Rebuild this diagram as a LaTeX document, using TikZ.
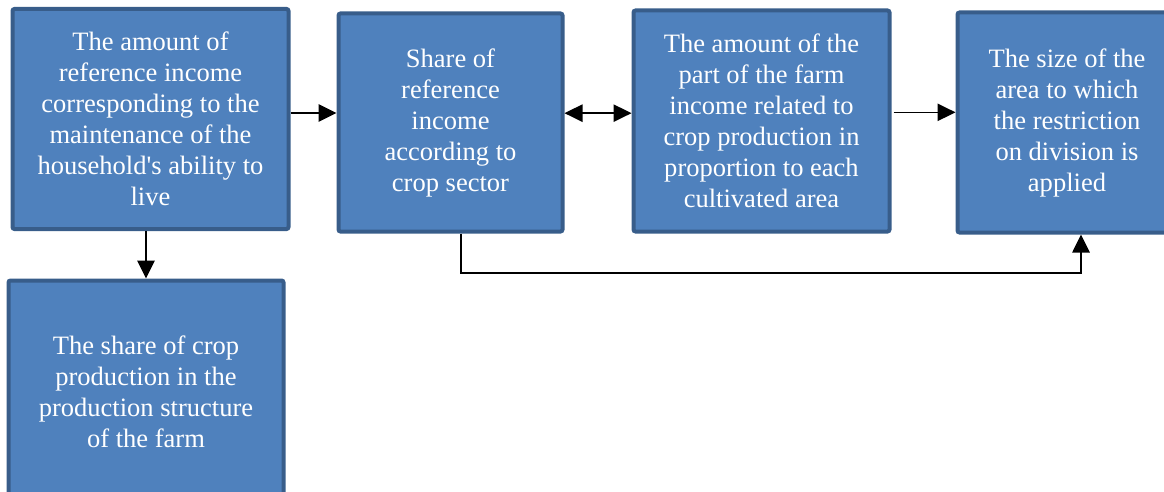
\documentclass[tikz,border=0pt]{standalone}
\usepackage{fontspec}
\setmainfont{Liberation Serif}
\usepackage{xcolor}
\usetikzlibrary{arrows.meta,positioning,shapes.geometric}
\definecolor{boxfill}{HTML}{4F81BD}
\definecolor{boxline}{HTML}{385D8A}

\begin{document}
\begin{tikzpicture}[x=0.75pt, y=-0.75pt,
    every node/.style={draw=boxline, line width=3pt, rectangle, rounded corners=1.5pt, fill=boxfill, text=white, align=center, font=\fontsize{19.9}{23.25}\selectfont},
    arr/.style={-{Triangle[length=13.5pt,width=13pt]}, line width=1.2pt, black},
    dblarr/.style={{Triangle[length=13.5pt,width=13pt]}-{Triangle[length=13.5pt,width=13pt]}, line width=1.2pt, black}]
    \useasboundingbox (0,0) rectangle (1164,492);
    \clip (0,0) rectangle (1164,492);

    \node (income) [minimum width=207pt, minimum height=165pt] at (150.5,119) {The amount of\\reference income\\corresponding to the\\maintenance of the\\household\textquotesingle s ability to\\live};
    \node (share) [minimum width=168pt, minimum height=163.5pt] at (450.5,122.5) {Share of\\reference\\income\\according to\\crop sector};
    \node (part) [minimum width=192pt, minimum height=165.75pt] at (761.5,121) {The amount of the\\part of the farm\\income related to\\crop production in\\proportion to each\\cultivated area};
    \node (size) [minimum width=164.25pt, minimum height=165pt] at (1067,122.5) {The size of the\\area to which\\the restriction\\on division is\\applied};
    \node (crop) [minimum width=206.25pt, minimum height=167.25pt] at (146,392) {The share of crop\\production in the\\production structure\\of the farm};

    \draw[arr] ([yshift=4.5pt]income.east) -- ([yshift=4.5pt]income.east -| share.west);
    \draw[dblarr] ([yshift=7pt]share.east) -- ([yshift=7pt]share.east -| part.west);
    \draw[arr] ([xshift=1.5pt,yshift=6.5pt]part.east) -- ([yshift=6.5pt]part.east -| size.west);
    \draw[arr] (income.south -| crop.north) -- (crop.north);
    \draw[arr] ([xshift=8pt]share.south) -- ++(0,39.5) -| ([xshift=10.5pt]size.south);

\end{tikzpicture}
\end{document}
